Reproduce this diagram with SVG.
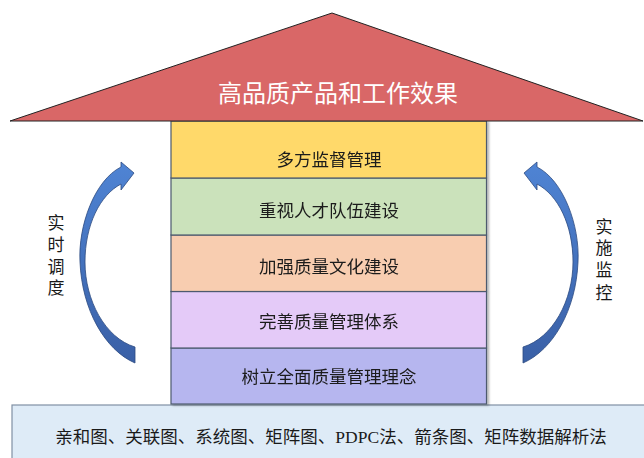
<svg xmlns="http://www.w3.org/2000/svg" width="644" height="458" viewBox="0 0 644 458">
<defs>
<style>
.layer{stroke:#4d5a6e;stroke-width:1.2}
.lt{font-family:"Liberation Serif","Noto Sans CJK SC",serif;font-size:17.5px;fill:#1a1a1a;text-anchor:middle}
.side{font-family:"Liberation Serif","Noto Sans CJK SC",serif;font-size:17px;fill:#1a1a1a;text-anchor:middle}
.arrow{fill:url(#ag);stroke:#2c4a80;stroke-width:0.8}
</style>
<linearGradient id="ag" x1="0" y1="0" x2="0" y2="1">
<stop offset="0" stop-color="#4f84d4"/>
<stop offset="1" stop-color="#3a60a6"/>
</linearGradient>
<filter id="sh" x="-5%" y="-5%" width="110%" height="110%">
<feDropShadow dx="2" dy="1" stdDeviation="1.2" flood-color="#000" flood-opacity="0.3"/>
</filter>
<path id="carrow" d="M121,167 L121,162 L134,173 L121,190 L121,184 C100,195 85,225 85,262 C85,300 105,338 135,347 L135,363 C105,350 82,310 80,262 C78,225 95,180 121,167 Z"/>
</defs>
<rect width="644" height="458" fill="#ffffff"/>
<g id="base">
<rect x="12" y="405" width="640" height="60" fill="#deebf7" stroke="#8090a4" stroke-width="1.2"/>
<text class="lt" x="331" y="443">亲和图、关联图、系统图、矩阵图、PDPC法、箭条图、矩阵数据解析法</text>
</g>
<g id="pillar" filter="url(#sh)">
<g id="layer5">
<rect class="layer" x="171" y="348" width="315.5" height="56" fill="#b6b6ef"/>
<text class="lt" x="329" y="383">树立全面质量管理理念</text>
</g>
<g id="layer4">
<rect class="layer" x="171" y="291.5" width="315.5" height="56.5" fill="#e4caf8"/>
<text class="lt" x="329" y="328">完善质量管理体系</text>
</g>
<g id="layer3">
<rect class="layer" x="171" y="235" width="315.5" height="56.5" fill="#f8cdb0"/>
<text class="lt" x="329" y="272.5">加强质量文化建设</text>
</g>
<g id="layer2">
<rect class="layer" x="171" y="178" width="315.5" height="57" fill="#cbe2bb"/>
<text class="lt" x="329" y="216.5">重视人才队伍建设</text>
</g>
<g id="layer1">
<rect class="layer" x="171" y="121" width="315.5" height="57" fill="#ffd96a"/>
<text class="lt" x="329" y="166">多方监督管理</text>
</g>
</g>
<g id="roof">
<polygon points="10,121 332,13 643,121" fill="#d96767" stroke="#222" stroke-width="1"/>
<text x="338" y="101.5" font-family="Liberation Serif,'Noto Sans CJK SC',serif" font-size="24" fill="#ffffff" text-anchor="middle">高品质产品和工作效果</text>
</g>
<g id="connectors">
<use href="#carrow" class="arrow"/>
<use href="#carrow" class="arrow" transform="translate(658,0) scale(-1,1)"/>
</g>
<g id="label-left">
<text class="side" x="56" y="229">实</text>
<text class="side" x="56" y="251">时</text>
<text class="side" x="56" y="273">调</text>
<text class="side" x="56" y="294">度</text>
</g>
<g id="label-right">
<text class="side" x="604" y="233">实</text>
<text class="side" x="604" y="254">施</text>
<text class="side" x="604" y="276">监</text>
<text class="side" x="604" y="299">控</text>
</g>
</svg>
